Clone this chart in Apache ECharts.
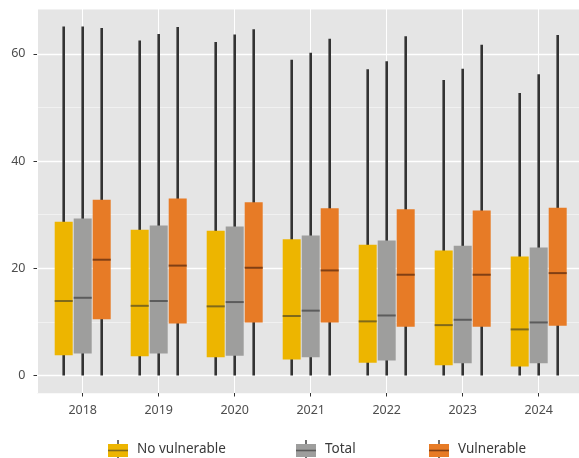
<!DOCTYPE html>
<html>
<head>
<meta charset="utf-8">
<script src="https://cdn.jsdelivr.net/npm/echarts@6/dist/echarts.min.js"></script>
<style>
  html, body { margin: 0; padding: 0; background: #ffffff; }
  #chart { width: 579px; height: 458px; }
</style>
</head>
<body>
<div id="chart"></div>
<script>
// Categories
const years = ['2018', '2019', '2020', '2021', '2022', '2023', '2024'];

// Box statistics per year: [lower whisker, Q1, median, Q3, upper whisker]
const noVulnerable = [
  [0, 3.8, 13.9, 28.7, 65.1],
  [0, 3.6, 13.0, 27.2, 62.5],
  [0, 3.4, 12.9, 27.0, 62.2],
  [0, 3.0, 11.1, 25.4, 58.9],
  [0, 2.4, 10.1, 24.4, 57.1],
  [0, 1.9, 9.4, 23.3, 55.1],
  [0, 1.7, 8.6, 22.2, 52.7]
];
const total = [
  [0, 4.1, 14.5, 29.3, 65.1],
  [0, 4.1, 13.9, 28.0, 63.7],
  [0, 3.7, 13.7, 27.8, 63.6],
  [0, 3.4, 12.1, 26.1, 60.2],
  [0, 2.8, 11.2, 25.2, 58.6],
  [0, 2.3, 10.4, 24.2, 57.2],
  [0, 2.3, 9.9, 23.9, 56.2]
];
const vulnerable = [
  [0, 10.5, 21.6, 32.8, 64.8],
  [0, 9.7, 20.5, 33.0, 65.0],
  [0, 9.9, 20.1, 32.3, 64.6],
  [0, 9.9, 19.6, 31.2, 62.8],
  [0, 9.1, 18.8, 31.0, 63.3],
  [0, 9.1, 18.8, 30.8, 61.7],
  [0, 9.3, 19.1, 31.3, 63.5]
];

// Y tick labels
const yTickValues = [0, 20, 40, 60];

// Value range of the panel (data range with a 5% margin on both ends)
const Y_MIN = -3.26;
const Y_MAX = 68.36;

const PANEL_BG = '#E5E5E5';
const WHISKER_COLOR = '#333333';
const AXIS_TEXT = '#4D4D4D';
const FONT = '"Noto Sans", "Open Sans", sans-serif';

const groups = [
  { name: 'No vulnerable', values: noVulnerable, color: '#EDB500', median: '#80691A', shift: -0.25 },
  { name: 'Total',         values: total,        color: '#9E9E9D', median: '#5C5C5C', shift: 0 },
  { name: 'Vulnerable',    values: vulnerable,   color: '#E77B26', median: '#803F14', shift: 0.25 }
];

const BOX_FRACTION = 18 / 76;

function makeRenderer(group) {
  return function (params, api) {
    const idx = api.value(0);
    const band = api.size([1, 0])[0];
    const cx = api.coord([idx, 0])[0] + band * group.shift;
    const half = band * BOX_FRACTION / 2;
    const yLow = api.coord([idx, api.value(1)])[1];
    const yQ1 = api.coord([idx, api.value(2)])[1];
    const yMed = api.coord([idx, api.value(3)])[1];
    const yQ3 = api.coord([idx, api.value(4)])[1];
    const yHigh = api.coord([idx, api.value(5)])[1];
    return {
      type: 'group',
      children: [
        {
          type: 'line',
          shape: { x1: cx, y1: yLow, x2: cx, y2: yHigh },
          style: { stroke: WHISKER_COLOR, lineWidth: 2.6 }
        },
        {
          type: 'rect',
          shape: { x: cx - half, y: yQ3, width: half * 2, height: yQ1 - yQ3 },
          style: { fill: group.color }
        },
        {
          type: 'line',
          shape: { x1: cx - half, y1: yMed, x2: cx + half, y2: yMed },
          style: { stroke: group.median, lineWidth: 2 }
        }
      ]
    };
  };
}

function legendIcon(group) {
  const svg =
    '<svg xmlns="http://www.w3.org/2000/svg" width="24" height="19" viewBox="0 0 24 19">' +
    '<line x1="10" y1="0" x2="10" y2="19" stroke="#333" stroke-width="1.4"/>' +
    '<rect x="0" y="4" width="20" height="13" fill="' + group.color + '"/>' +
    '<line x1="0" y1="10.5" x2="20" y2="10.5" stroke="' + group.median + '" stroke-width="1.6"/>' +
    '</svg>';
  return 'image://data:image/svg+xml;charset=utf-8,' + encodeURIComponent(svg);
}

const legendLefts = [108, 296, 429];

function isYTick(v) {
  return yTickValues.some(function (t) { return Math.abs(t - v) < 1e-6; });
}

const chart = echarts.init(document.getElementById('chart'), null, { renderer: 'canvas' });

chart.setOption({
  animation: false,
  textStyle: { fontFamily: FONT },
  grid: [
    // Panel: background, gridlines and y labels
    { left: 37, right: 0, top: 9, bottom: 65, backgroundColor: PANEL_BG, show: true, borderWidth: 0,
      containLabel: false, outerBoundsMode: 'none' },
    // Category band for the boxes
    { left: 44.7, width: 532, top: 9, bottom: 65, containLabel: false, outerBoundsMode: 'none' }
  ],
  xAxis: [
    {
      type: 'value', gridIndex: 0,
      min: -0.601, max: 6.53, splitNumber: 7,
      axisLine: { show: false, onZero: false }, axisTick: { show: false }, axisLabel: { show: false },
      splitLine: { show: true, lineStyle: { color: '#FFFFFF', width: 1 } }
    },
    {
      type: 'category', gridIndex: 1, data: years,
      axisLine: { show: false, onZero: false },
      axisTick: { show: true, alignWithLabel: true, length: 3.5, lineStyle: { color: '#333333', width: 1 } },
      axisLabel: { color: AXIS_TEXT, fontSize: 12.5, margin: 11, fontFamily: FONT },
      splitLine: { show: false }
    }
  ],
  yAxis: [
    {
      type: 'value', gridIndex: 0, min: Y_MIN, max: Y_MAX, splitNumber: 4,
      axisLine: { show: false, onZero: false },
      axisTick: { show: true, length: 3.5, customValues: yTickValues, lineStyle: { color: '#333333', width: 1 } },
      axisLabel: {
        color: AXIS_TEXT, fontSize: 12.5, margin: 11.5, fontFamily: FONT, align: 'right',
        showMinLabel: false, showMaxLabel: false,
        formatter: function (v) { return isYTick(v) ? String(v) : ''; }
      },
      splitLine: { show: true, lineStyle: { color: '#FFFFFF', width: 1.3 } },
      z: 1
    },
    {
      // minor gridlines
      type: 'value', gridIndex: 0, min: Y_MIN, max: Y_MAX, splitNumber: 7, position: 'left',
      axisLine: { show: false, onZero: false }, axisTick: { show: false }, axisLabel: { show: false },
      splitLine: { show: true, lineStyle: { color: '#F6F6F6', width: 0.7 } },
      z: 0
    },
    {
      type: 'value', gridIndex: 1, min: Y_MIN, max: Y_MAX,
      axisLine: { show: false, onZero: false }, axisTick: { show: false }, axisLabel: { show: false },
      splitLine: { show: false }
    }
  ],
  legend: groups.map(function (g, i) {
    return {
      left: legendLefts[i], top: 440, padding: 0,
      data: [{ name: g.name, icon: legendIcon(g) }],
      itemWidth: 24, itemHeight: 19,
      selectedMode: false,
      textStyle: { color: '#3A3A3A', fontSize: 13.5, fontFamily: FONT, padding: [2, 0, 0, 0] }
    };
  }),
  series: groups.map(function (g) {
    return {
      name: g.name,
      type: 'custom',
      xAxisIndex: 1,
      yAxisIndex: 2,
      itemStyle: { color: g.color },
      encode: { x: 0, y: [1, 2, 3, 4, 5] },
      data: g.values.map(function (v, i) { return [i].concat(v); }),
      renderItem: makeRenderer(g),
      z: 3
    };
  })
});
</script>
</body>
</html>
